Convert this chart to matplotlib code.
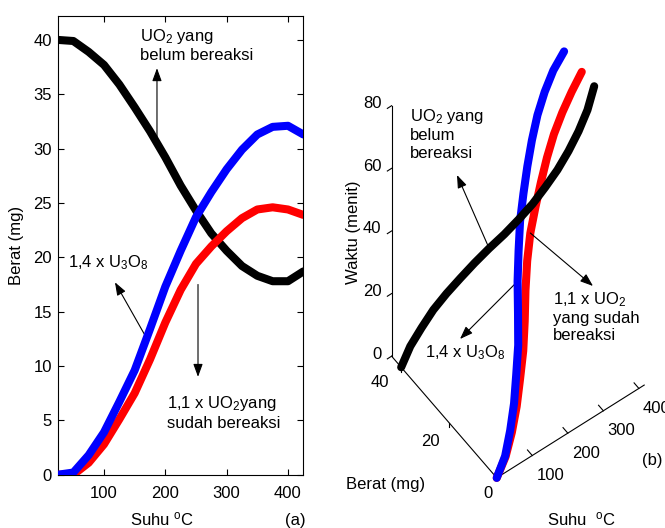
import matplotlib
matplotlib.use("Agg")
import matplotlib.pyplot as plt
from mpl_toolkits.mplot3d import proj3d

plt.rcParams['font.family'] = ['Liberation Sans', 'DejaVu Sans']
plt.rcParams['mathtext.fontset'] = 'custom'
plt.rcParams['mathtext.rm'] = 'Liberation Sans'
plt.rcParams['mathtext.it'] = 'Liberation Sans:italic'
plt.rcParams['mathtext.bf'] = 'Liberation Sans:bold'
plt.rcParams['font.size'] = 12

# --- data (a): berat vs suhu ---
suhu = [25, 50, 75, 100, 125, 150, 175, 200, 225, 250, 275, 300, 325, 350, 375, 400, 425]
uo2_sisa = [40.0, 39.9, 38.9, 37.7, 35.9, 33.8, 31.6, 29.2, 26.6, 24.3, 22.2, 20.6, 19.2, 18.3, 17.8, 17.8, 18.7]
u3o8 = [0.0, 0.2, 1.8, 3.9, 6.7, 9.6, 13.4, 17.3, 20.6, 23.7, 26.0, 28.1, 29.9, 31.3, 32.0, 32.1, 31.3]
uo2_reaksi = [0.0, 0.0, 1.1, 2.8, 5.1, 7.5, 10.6, 14.0, 17.0, 19.4, 21.0, 22.4, 23.6, 24.4, 24.6, 24.4, 23.9]

# --- data (b): same runs, suhu axis and waktu ---
suhu_b = [0, 25, 50, 75, 100, 125, 150, 175, 200, 225, 250, 275, 300, 325, 350, 375, 400]
waktu = [0, 5, 10, 15, 20, 25, 30, 35, 40, 45, 50, 55, 60, 65, 70, 75, 80]

suhu_ticks_b = [100, 200, 300, 400]
berat_ticks_b = [0, 20, 40]
waktu_ticks_b = [0, 20, 40, 60, 80]

W, H = 665, 528


def fp(x, y):
    # image pixel (top-left origin) -> figure fraction
    return x / W, 1 - y / H


fig = plt.figure(figsize=(W / 100, H / 100), dpi=100)

# ---------------- panel (a) ----------------
ax = fig.add_axes([58 / W, (H - 474.7) / H, 245.3 / W, 458.7 / H])
ax.plot(suhu, uo2_sisa, color='black', lw=5.8, solid_capstyle='round', zorder=2)
ax.plot(suhu, uo2_reaksi, color='red', lw=5.8, solid_capstyle='round', zorder=3)
ax.plot(suhu, u3o8, color='blue', lw=5.8, solid_capstyle='round', zorder=4)
ax.set_xlim(25, 425)
ax.set_ylim(0, 42.2)
ax.set_xticks([100, 200, 300, 400])
ax.set_yticks(range(0, 41, 5))
ax.tick_params(direction='in', length=4, width=0.8, top=True, right=True)
ax.tick_params(axis='y', pad=4.3)
ax.tick_params(axis='x', pad=8)
for sp in ax.spines.values():
    sp.set_linewidth(0.8)

arrow = dict(arrowstyle='-|>,head_length=0.6,head_width=0.22', color='black',
             lw=0.8, mutation_scale=13, shrinkA=0, shrinkB=0)

ax.text(158.7, 41.2, 'UO$_2$ yang\nbelum bereaksi', ha='left', va='top')
ax.annotate('', xy=(186.4, 37.4), xytext=(186.4, 31.1), arrowprops=arrow)
ax.text(41.3, 20.4, '1,4 x U$_3$O$_8$', ha='left', va='top')
ax.annotate('', xy=(117.9, 17.7), xytext=(170.1, 12.5), arrowprops=arrow)
ax.text(202.7, 7.4, '1,1 x UO$_2$yang\nsudah bereaksi', ha='left', va='top')
ax.annotate('', xy=(253.3, 9.0), xytext=(253.3, 17.5), arrowprops=arrow)

fig.text(*fp(17, 245), 'Berat (mg)', rotation=90, ha='center', va='center')
fig.text(*fp(130, 525), 'Suhu $^{\\mathrm{o}}$C', ha='left', va='baseline')
fig.text(*fp(285, 525), '(a)', ha='left', va='baseline')

# ---------------- panel (b) ----------------
S = 520
zoom = 528.2 / S
cx, cy = 517.9, 245.4
left = cx - 0.5135 * S
top = cy - 0.4865 * S
ax3 = fig.add_axes([left / W, (H - top - S) / H, S / W, S / H], projection='3d')
ax3.set_proj_type('ortho')
ax3.view_init(elev=58.6, azim=-126.4)
ax3.set_xlim(0, 415)
ax3.set_ylim(0, 44)
ax3.set_zlim(0, 80)
ax3.set_box_aspect((180.4, 174.4, 473.3), zoom=zoom)
ax3.set_axis_off()
ax3.set_facecolor('none')
ax3.computed_zorder = False

# axis lines
ax3.plot([0, 415], [0, 0], [0, 0], color='black', lw=0.8, zorder=1)
ax3.plot([0, 0], [0, 44], [0, 0], color='black', lw=0.8, zorder=1)
ax3.plot([0, 0], [44, 44], [0, 80], color='black', lw=0.8, zorder=1)
for t in suhu_ticks_b:
    ax3.plot([t, t], [0, 2], [0, 0], color='black', lw=0.8, zorder=1)
for b in berat_ticks_b[1:]:
    ax3.plot([0, 0], [b, b], [0, -1.5], color='black', lw=0.8, zorder=1)
for w in waktu_ticks_b:
    ax3.plot([0, -12], [44, 44], [w, w], color='black', lw=0.8, zorder=1)

# curves
ax3.plot(suhu_b, uo2_reaksi, waktu, color='red', lw=5.8, solid_capstyle='round', zorder=3)
ax3.plot(suhu_b, u3o8, waktu, color='blue', lw=5.8, solid_capstyle='round', zorder=4)
ax3.plot(suhu_b, uo2_sisa, waktu, color='black', lw=5.8, solid_capstyle='round', zorder=5)

M = ax3.get_proj()


def proj(x, y, z):
    px, py, _ = proj3d.proj_transform(x, y, z, M)
    return px, py


for t in suhu_ticks_b:
    ax3.annotate(str(t), xy=proj(t, 0, 0), xytext=(18, -20), textcoords='offset pixels',
                 ha='center', va='center', annotation_clip=False)
for b, off in zip(berat_ticks_b, [(-9, -16), (-19, -19), (-21, -15)]):
    ax3.annotate(str(b), xy=proj(0, b, 0), xytext=off, textcoords='offset pixels',
                 ha='center', va='center', annotation_clip=False)
for w in waktu_ticks_b:
    ax3.annotate(str(w), xy=proj(0, 44, w), xytext=(-10, 2), textcoords='offset pixels',
                 ha='right', va='center', annotation_clip=False)

# annotations
ax3.annotate('', xy=fp(457, 175), xycoords='figure fraction',
             xytext=proj(suhu_b[7], uo2_sisa[7], waktu[7]), textcoords='data', arrowprops=arrow)
ax3.annotate('', xy=fp(593, 286), xycoords='figure fraction',
             xytext=proj(suhu_b[9], uo2_reaksi[9], waktu[9]), textcoords='data', arrowprops=arrow)
ax3.annotate('', xy=fp(460, 339), xycoords='figure fraction',
             xytext=proj(suhu_b[7], u3o8[7], waktu[7]), textcoords='data', arrowprops=arrow)

fig.text(*fp(410, 107), 'UO$_2$ yang\nbelum\nbereaksi', ha='left', va='top')
fig.text(*fp(553, 290), '1,1 x UO$_2$\nyang sudah\nbereaksi', ha='left', va='top')
fig.text(*fp(425, 343), '1,4 x U$_3$O$_8$', ha='left', va='top')
fig.text(*fp(353, 232), 'Waktu (menit)', rotation=90, ha='center', va='center')
fig.text(*fp(386, 484), 'Berat (mg)', ha='center', va='center')
fig.text(*fp(547, 525), 'Suhu  $^{\\mathrm{o}}$C', ha='left', va='baseline')
fig.text(*fp(652, 461), '(b)', ha='center', va='center')

fig.savefig('out.png', dpi=100)
